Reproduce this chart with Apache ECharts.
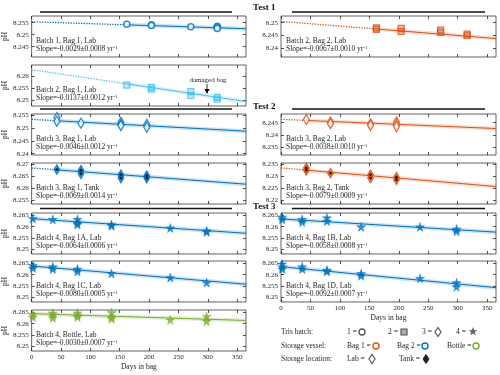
<!DOCTYPE html>
<html>
<head>
<meta charset="utf-8">
<script src="https://cdn.jsdelivr.net/npm/echarts@6/dist/echarts.min.js"></script>
<style>
html, body { margin: 0; padding: 0; background: #fff; }
#main { width: 500px; height: 375px; }
</style>
</head>
<body>
<div id="main"></div>
<script>
// ticks
var dayTicks = [0, 50, 100, 150, 200, 250, 300, 350];

// Test 1 : [day, pH]
var b1Bag1Lab = [[162, 8.2544], [204, 8.2541], [204, 8.2538], [271, 8.2533], [316, 8.2535], [316, 8.2530], [316, 8.2526]];
var b2Bag1Lab = [[162, 8.2564], [204, 8.2554], [204, 8.2546], [271, 8.2536], [271, 8.2519], [316, 8.2511], [316, 8.2503]];
var b2Bag2Lab = [[162, 8.2480], [162, 8.2474], [204, 8.2478], [204, 8.2466], [271, 8.2471], [271, 8.2462], [316, 8.2455], [316, 8.2449]];
// Test 2
var b3Bag1Lab = [[43, 8.2541], [43, 8.2527], [84, 8.2519], [152, 8.2523], [152, 8.2514], [152, 8.2510], [196, 8.2514], [196, 8.2503]];
var b3Bag1Tank = [[43, 8.2679], [84, 8.2676], [84, 8.2661], [152, 8.2657], [152, 8.2643], [196, 8.2653], [196, 8.2643]];
var b3Bag2Lab = [[43, 8.2463], [84, 8.2453], [84, 8.2446], [152, 8.2446], [152, 8.2439], [196, 8.2453], [196, 8.2443], [196, 8.2434]];
var b3Bag2Tank = [[43, 8.2336], [43, 8.2326], [84, 8.2314], [152, 8.2307], [152, 8.2293], [196, 8.2297], [196, 8.2286]];
// Test 3
var b4Bag1A = [[2, 8.2636], [36, 8.2632], [78, 8.2632], [78, 8.2617], [78, 8.2609], [136, 8.2609], [136, 8.2604], [236, 8.2594], [298, 8.2582], [298, 8.2577]];
var b4Bag1B = [[2, 8.2642], [2, 8.2632], [36, 8.2632], [36, 8.2620], [78, 8.2639], [78, 8.2624], [136, 8.2599], [236, 8.2599], [298, 8.2590], [298, 8.2579]];
var b4Bag1C = [[2, 8.2640], [2, 8.2629], [36, 8.2635], [36, 8.2625], [78, 8.2625], [78, 8.2614], [136, 8.2605], [236, 8.2587], [298, 8.2565]];
var b4Bag1D = [[2, 8.2647], [2, 8.2635], [2, 8.2625], [36, 8.2635], [36, 8.2625], [78, 8.2620], [78, 8.2614], [136, 8.2605], [136, 8.2595], [236, 8.2584], [298, 8.2565], [298, 8.2547]];
var b4Bottle = [[2, 8.2640], [2, 8.2629], [36, 8.2647], [36, 8.2637], [36, 8.2626], [78, 8.2647], [78, 8.2637], [78, 8.2629], [136, 8.2649], [136, 8.2629], [136, 8.2622], [236, 8.2617], [298, 8.2632], [298, 8.2611]];

// fitted lines: [pH at day 0, slope per yr, first day]
var fitB1Bag1Lab = [8.2554, -0.0029, 162];
var fitB2Bag1Lab = [8.2630, -0.0137, 162];
var fitB2Bag2Lab = [8.2505, -0.0067, 162];
var fitB3Bag1Lab = [8.2534, -0.0046, 43];
var fitB3Bag1Tank = [8.2686, -0.0069, 43];
var fitB3Bag2Lab = [8.2464, -0.0038, 43];
var fitB3Bag2Tank = [8.2336, -0.0079, 43];
var fitB4Bag1A = [8.2635, -0.0064, 2];
var fitB4Bag1B = [8.2634, -0.0058, 2];
var fitB4Bag1C = [8.2638, -0.0080, 2];
var fitB4Bag1D = [8.2635, -0.0092, 2];
var fitB4Bottle = [8.2644, -0.0030, 2];

// y tick labels
var ticksB1Bag1Lab = [8.245, 8.25, 8.255];
var ticksB2Bag1Lab = [8.25, 8.255, 8.26];
var ticksB2Bag2Lab = [8.24, 8.245, 8.25];
var ticksB3Bag1Lab = [8.24, 8.245, 8.25, 8.255];
var ticksB3Bag1Tank = [8.255, 8.26, 8.265, 8.27];
var ticksB3Bag2Lab = [8.235, 8.24, 8.245];
var ticksB3Bag2Tank = [8.22, 8.225, 8.23, 8.235];
var ticksB4 = [8.25, 8.255, 8.26, 8.265];

var BLUE = '#0072BD', LBLUE = '#4DBEEE', ORANGE = '#D95319', GREEN = '#77AC30';
var FONT = 'Liberation Serif';
var STAR = 'path://M50,0 L61,35 L98,35 L68,57 L79,91 L50,70 L21,91 L32,57 L2,35 L39,35 Z';

var rowTop = [16, 65, 114, 163, 213, 261, 310];
var colLeft = [31, 281];
var panelW = 215, panelH = 41;

var panels = [
  {col: 0, row: 0, data: b1Bag1Lab, fit: fitB1Bag1Lab, ticks: ticksB1Bag1Lab, yr: [8.2407, 8.2578], color: BLUE, mk: 'circle', t1: 'Batch 1, Bag 1, Lab', t2: 'Slope=-0.0029\u00b10.0008 yr'},
  {col: 0, row: 1, data: b2Bag1Lab, fit: fitB2Bag1Lab, ticks: ticksB2Bag1Lab, yr: [8.2474, 8.2650], color: LBLUE, mk: 'square', t1: 'Batch 2, Bag 1, Lab', t2: 'Slope=-0.0137\u00b10.0012 yr'},
  {col: 1, row: 0, data: b2Bag2Lab, fit: fitB2Bag2Lab, ticks: ticksB2Bag2Lab, yr: [8.2366, 8.2526], color: ORANGE, mk: 'square', t1: 'Batch 2, Bag 2, Lab', t2: 'Slope=-0.0067\u00b10.0010 yr'},
  {col: 0, row: 2, data: b3Bag1Lab, fit: fitB3Bag1Lab, ticks: ticksB3Bag1Lab, yr: [8.2395, 8.2555], color: BLUE, mk: 'diamond', t1: 'Batch 3, Bag 1, Lab', t2: 'Slope=-0.0046\u00b10.0012 yr'},
  {col: 0, row: 3, data: b3Bag1Tank, fit: fitB3Bag1Tank, ticks: ticksB3Bag1Tank, yr: [8.2533, 8.2707], color: BLUE, mk: 'tank', t1: 'Batch 3, Bag 1, Tank', t2: 'Slope=-0.0069\u00b10.0014 yr'},
  {col: 1, row: 2, data: b3Bag2Lab, fit: fitB3Bag2Lab, ticks: ticksB3Bag2Lab, yr: [8.2317, 8.2486], color: ORANGE, mk: 'diamond', t1: 'Batch 3, Bag 2, Lab', t2: 'Slope=-0.0038\u00b10.0010 yr'},
  {col: 1, row: 3, data: b3Bag2Tank, fit: fitB3Bag2Tank, ticks: ticksB3Bag2Tank, yr: [8.2183, 8.2357], color: ORANGE, mk: 'tank', t1: 'Batch 3, Bag 2, Tank', t2: 'Slope=-0.0079\u00b10.0009 yr'},
  {col: 0, row: 4, data: b4Bag1A, fit: fitB4Bag1A, ticks: ticksB4, yr: [8.248, 8.266], color: BLUE, mk: 'star', t1: 'Batch 4, Bag 1A, Lab', t2: 'Slope=-0.0064\u00b10.0006 yr'},
  {col: 1, row: 4, data: b4Bag1B, fit: fitB4Bag1B, ticks: ticksB4, yr: [8.248, 8.266], color: BLUE, mk: 'star', t1: 'Batch 4, Bag 1B, Lab', t2: 'Slope=-0.0058\u00b10.0008 yr'},
  {col: 0, row: 5, data: b4Bag1C, fit: fitB4Bag1C, ticks: ticksB4, yr: [8.248, 8.266], color: BLUE, mk: 'star', t1: 'Batch 4, Bag 1C, Lab', t2: 'Slope=-0.0080\u00b10.0005 yr'},
  {col: 1, row: 5, data: b4Bag1D, fit: fitB4Bag1D, ticks: ticksB4, yr: [8.248, 8.266], color: BLUE, mk: 'star', bottom: true, t1: 'Batch 4, Bag 1D, Lab', t2: 'Slope=-0.0092\u00b10.0007 yr'},
  {col: 0, row: 6, data: b4Bottle, fit: fitB4Bottle, ticks: ticksB4, yr: [8.248, 8.266], color: GREEN, mk: 'star', bottom: true, t1: 'Batch 4, Bottle, Lab', t2: 'Slope=-0.0030\u00b10.0007 yr'}
];

function fmtY(v) { return String(+v.toFixed(3)); }
function fitAt(f, d) { return f[0] + f[1] * d / 365; }

var grids = [], xAxes = [], yAxes = [], series = [], graphics = [];
var tickStyle = {color: '#262626', width: 0.8};
var labelStyle = {fontFamily: FONT, fontSize: 7, color: '#262626'};

panels.forEach(function (p, i) {
  var left = colLeft[p.col], top = rowTop[p.row];
  grids.push({left: left, top: top, width: panelW, height: panelH, show: true, borderColor: '#3a3a3a', borderWidth: 0.8});
  [['bottom', true], ['top', false]].forEach(function (s) {
    xAxes.push({
      gridIndex: i, type: 'value', min: 0, max: 365, position: s[0],
      axisLine: {show: false, onZero: false}, splitLine: {show: false},
      axisTick: {inside: true, length: 3, customValues: dayTicks, lineStyle: tickStyle},
      axisLabel: Object.assign({show: s[1] && !!p.bottom, customValues: dayTicks, margin: 3}, labelStyle),
      name: (s[1] && p.bottom) ? 'Days in bag' : '', nameLocation: 'middle', nameGap: 12,
      nameTextStyle: {fontFamily: FONT, fontSize: 7.5, color: '#262626'}
    });
  });
  [['left', true], ['right', false]].forEach(function (s) {
    yAxes.push({
      gridIndex: i, type: 'value', min: p.yr[0], max: p.yr[1], position: s[0],
      axisLine: {show: false, onZero: false}, splitLine: {show: false},
      axisTick: {inside: true, length: 3, customValues: p.ticks, lineStyle: tickStyle},
      axisLabel: Object.assign({show: s[1], customValues: p.ticks, margin: 3, formatter: fmtY}, labelStyle),
      name: (s[1] && p.col === 0) ? 'pH' : '', nameLocation: 'middle', nameGap: 20, nameRotate: 90,
      nameTextStyle: {fontFamily: FONT, fontSize: 7.5, color: '#262626'}
    });
  });
  var xi = 2 * i, yi = 2 * i;
  var f = p.fit, d0 = f[2];
  var base = {type: 'line', xAxisIndex: xi, yAxisIndex: yi, symbol: 'none', silent: true, animation: false};
  series.push(Object.assign({}, base, {data: [[d0, fitAt(f, d0)], [365, fitAt(f, 365)]], lineStyle: {color: p.color, width: 4, opacity: 0.2}, z: 1}));
  series.push(Object.assign({}, base, {data: [[0, fitAt(f, 0)], [d0, fitAt(f, d0)]], lineStyle: {color: p.color, width: 1.3, type: 'dotted'}, z: 2}));
  series.push(Object.assign({}, base, {data: [[d0, fitAt(f, d0)], [365, fitAt(f, 365)]], lineStyle: {color: p.color, width: 1}, z: 2}));

  var sym, size, style;
  if (p.mk === 'circle') { sym = 'circle'; size = 6; style = {color: '#fff', borderColor: p.color, borderWidth: 1.5}; }
  else if (p.mk === 'square') { sym = 'rect'; size = 6; style = {color: echarts.color.modifyAlpha(p.color, 0.45), borderColor: p.color, borderWidth: 1.2}; }
  else if (p.mk === 'diamond') { sym = 'diamond'; size = [6, 10]; style = {color: '#fff', borderColor: p.color, borderWidth: 1.4}; }
  else if (p.mk === 'tank') { sym = 'diamond'; size = [6, 10]; style = {color: p.color, borderColor: p.color, borderWidth: 1}; }
  else { sym = STAR; size = 9; style = {color: p.color, borderColor: echarts.color.modifyAlpha(p.color, 0.5), borderWidth: 1}; }
  series.push({type: 'scatter', xAxisIndex: xi, yAxisIndex: yi, data: p.data, symbol: sym, symbolSize: size, itemStyle: style, z: 3, animation: false});
  if (p.mk === 'tank') {
    series.push({type: 'scatter', xAxisIndex: xi, yAxisIndex: yi, data: p.data, symbol: 'circle', symbolSize: 2.5, itemStyle: {color: '#000'}, z: 4, animation: false});
  }

  var tx = left + 5;
  graphics.push({type: 'text', left: tx, top: top + 21, z: 10, style: {text: p.t1, font: '7.5px "' + FONT + '"', fill: '#262626'}});
  graphics.push({type: 'text', left: tx, top: top + 29, z: 10, style: {
    text: p.t2 + '{s|-1}', font: '7.5px "' + FONT + '"', fill: '#262626',
    rich: {s: {fontSize: 5, fontFamily: FONT, verticalAlign: 'top', lineHeight: 6, fill: '#262626'}}
  }});
});

// test headers
[[8, 12, 'Test 1'], [106.5, 109, 'Test 2'], [206.5, 208.5, 'Test 3']].forEach(function (h) {
  graphics.push({type: 'line', shape: {x1: 40, y1: h[1], x2: 232, y2: h[1]}, style: {stroke: '#111', lineWidth: 1.5}});
  graphics.push({type: 'line', shape: {x1: 292, y1: h[1], x2: 485, y2: h[1]}, style: {stroke: '#111', lineWidth: 1.5}});
  graphics.push({type: 'text', x: 253, y: h[0], z: 20, style: {text: h[2], font: 'bold 9px "' + FONT + '"', fill: '#111', textVerticalAlign: 'middle'}});
});

// damaged bag note
graphics.push({type: 'text', x: 208, y: 80, style: {text: 'damaged bag', font: '7px "' + FONT + '"', fill: '#262626', textAlign: 'center', textVerticalAlign: 'middle'}});
graphics.push({type: 'line', shape: {x1: 207, y1: 84, x2: 207, y2: 90}, style: {stroke: '#000', lineWidth: 0.8}});
graphics.push({type: 'polygon', shape: {points: [[204.5, 89], [209.5, 89], [207, 94]]}, style: {fill: '#000'}});

// legend
function starPts(cx, cy, r) {
  var pts = [];
  for (var k = 0; k < 10; k++) {
    var a = -Math.PI / 2 + k * Math.PI / 5, rr = k % 2 ? r * 0.42 : r;
    pts.push([cx + rr * Math.cos(a), cy + rr * Math.sin(a)]);
  }
  return pts;
}
function diaPts(cx, cy) { return [[cx, cy - 4.5], [cx + 3, cy], [cx, cy + 4.5], [cx - 3, cy]]; }
function ltext(x, y, t) {
  graphics.push({type: 'text', x: x, y: y, style: {text: t, font: '7.5px "' + FONT + '"', fill: '#262626', textVerticalAlign: 'middle'}});
}
var ly = [332, 346, 359];
ltext(281, ly[0], 'Tris batch:');
ltext(281, ly[1], 'Storage vessel:');
ltext(281, ly[2], 'Storage location:');
ltext(347, ly[0], '1 =');
graphics.push({type: 'circle', shape: {cx: 362, cy: ly[0], r: 3}, style: {fill: '#fff', stroke: '#555', lineWidth: 1.3}});
ltext(388, ly[0], '2 =');
graphics.push({type: 'rect', shape: {x: 401, y: ly[0] - 3, width: 6, height: 6}, style: {fill: '#aaa', stroke: '#555', lineWidth: 1.2}});
ltext(422, ly[0], '3 =');
graphics.push({type: 'polygon', shape: {points: diaPts(438, ly[0])}, style: {fill: '#fff', stroke: '#555', lineWidth: 1.2}});
ltext(456, ly[0], '4 =');
graphics.push({type: 'polygon', shape: {points: starPts(473, ly[0] - 0.5, 4.5)}, style: {fill: '#666'}});
ltext(347, ly[1], 'Bag 1 =');
graphics.push({type: 'circle', shape: {cx: 376, cy: ly[1], r: 3}, style: {fill: '#fff', stroke: ORANGE, lineWidth: 1.4}});
ltext(397, ly[1], 'Bag 2 =');
graphics.push({type: 'circle', shape: {cx: 425, cy: ly[1], r: 3}, style: {fill: '#fff', stroke: BLUE, lineWidth: 1.4}});
ltext(447, ly[1], 'Bottle =');
graphics.push({type: 'circle', shape: {cx: 476, cy: ly[1], r: 3}, style: {fill: '#fff', stroke: GREEN, lineWidth: 1.4}});
ltext(347, ly[2], 'Lab =');
graphics.push({type: 'polygon', shape: {points: diaPts(372, ly[2])}, style: {fill: '#fff', stroke: '#555', lineWidth: 1.2}});
ltext(399, ly[2], 'Tank =');
graphics.push({type: 'polygon', shape: {points: diaPts(426, ly[2])}, style: {fill: '#222', stroke: '#222', lineWidth: 1}});

var chart = echarts.init(document.getElementById('main'), null, {renderer: 'canvas'});
chart.setOption({
  backgroundColor: '#fff',
  animation: false,
  grid: grids,
  xAxis: xAxes,
  yAxis: yAxes,
  series: series,
  graphic: {elements: graphics}
});
</script>
</body>
</html>
